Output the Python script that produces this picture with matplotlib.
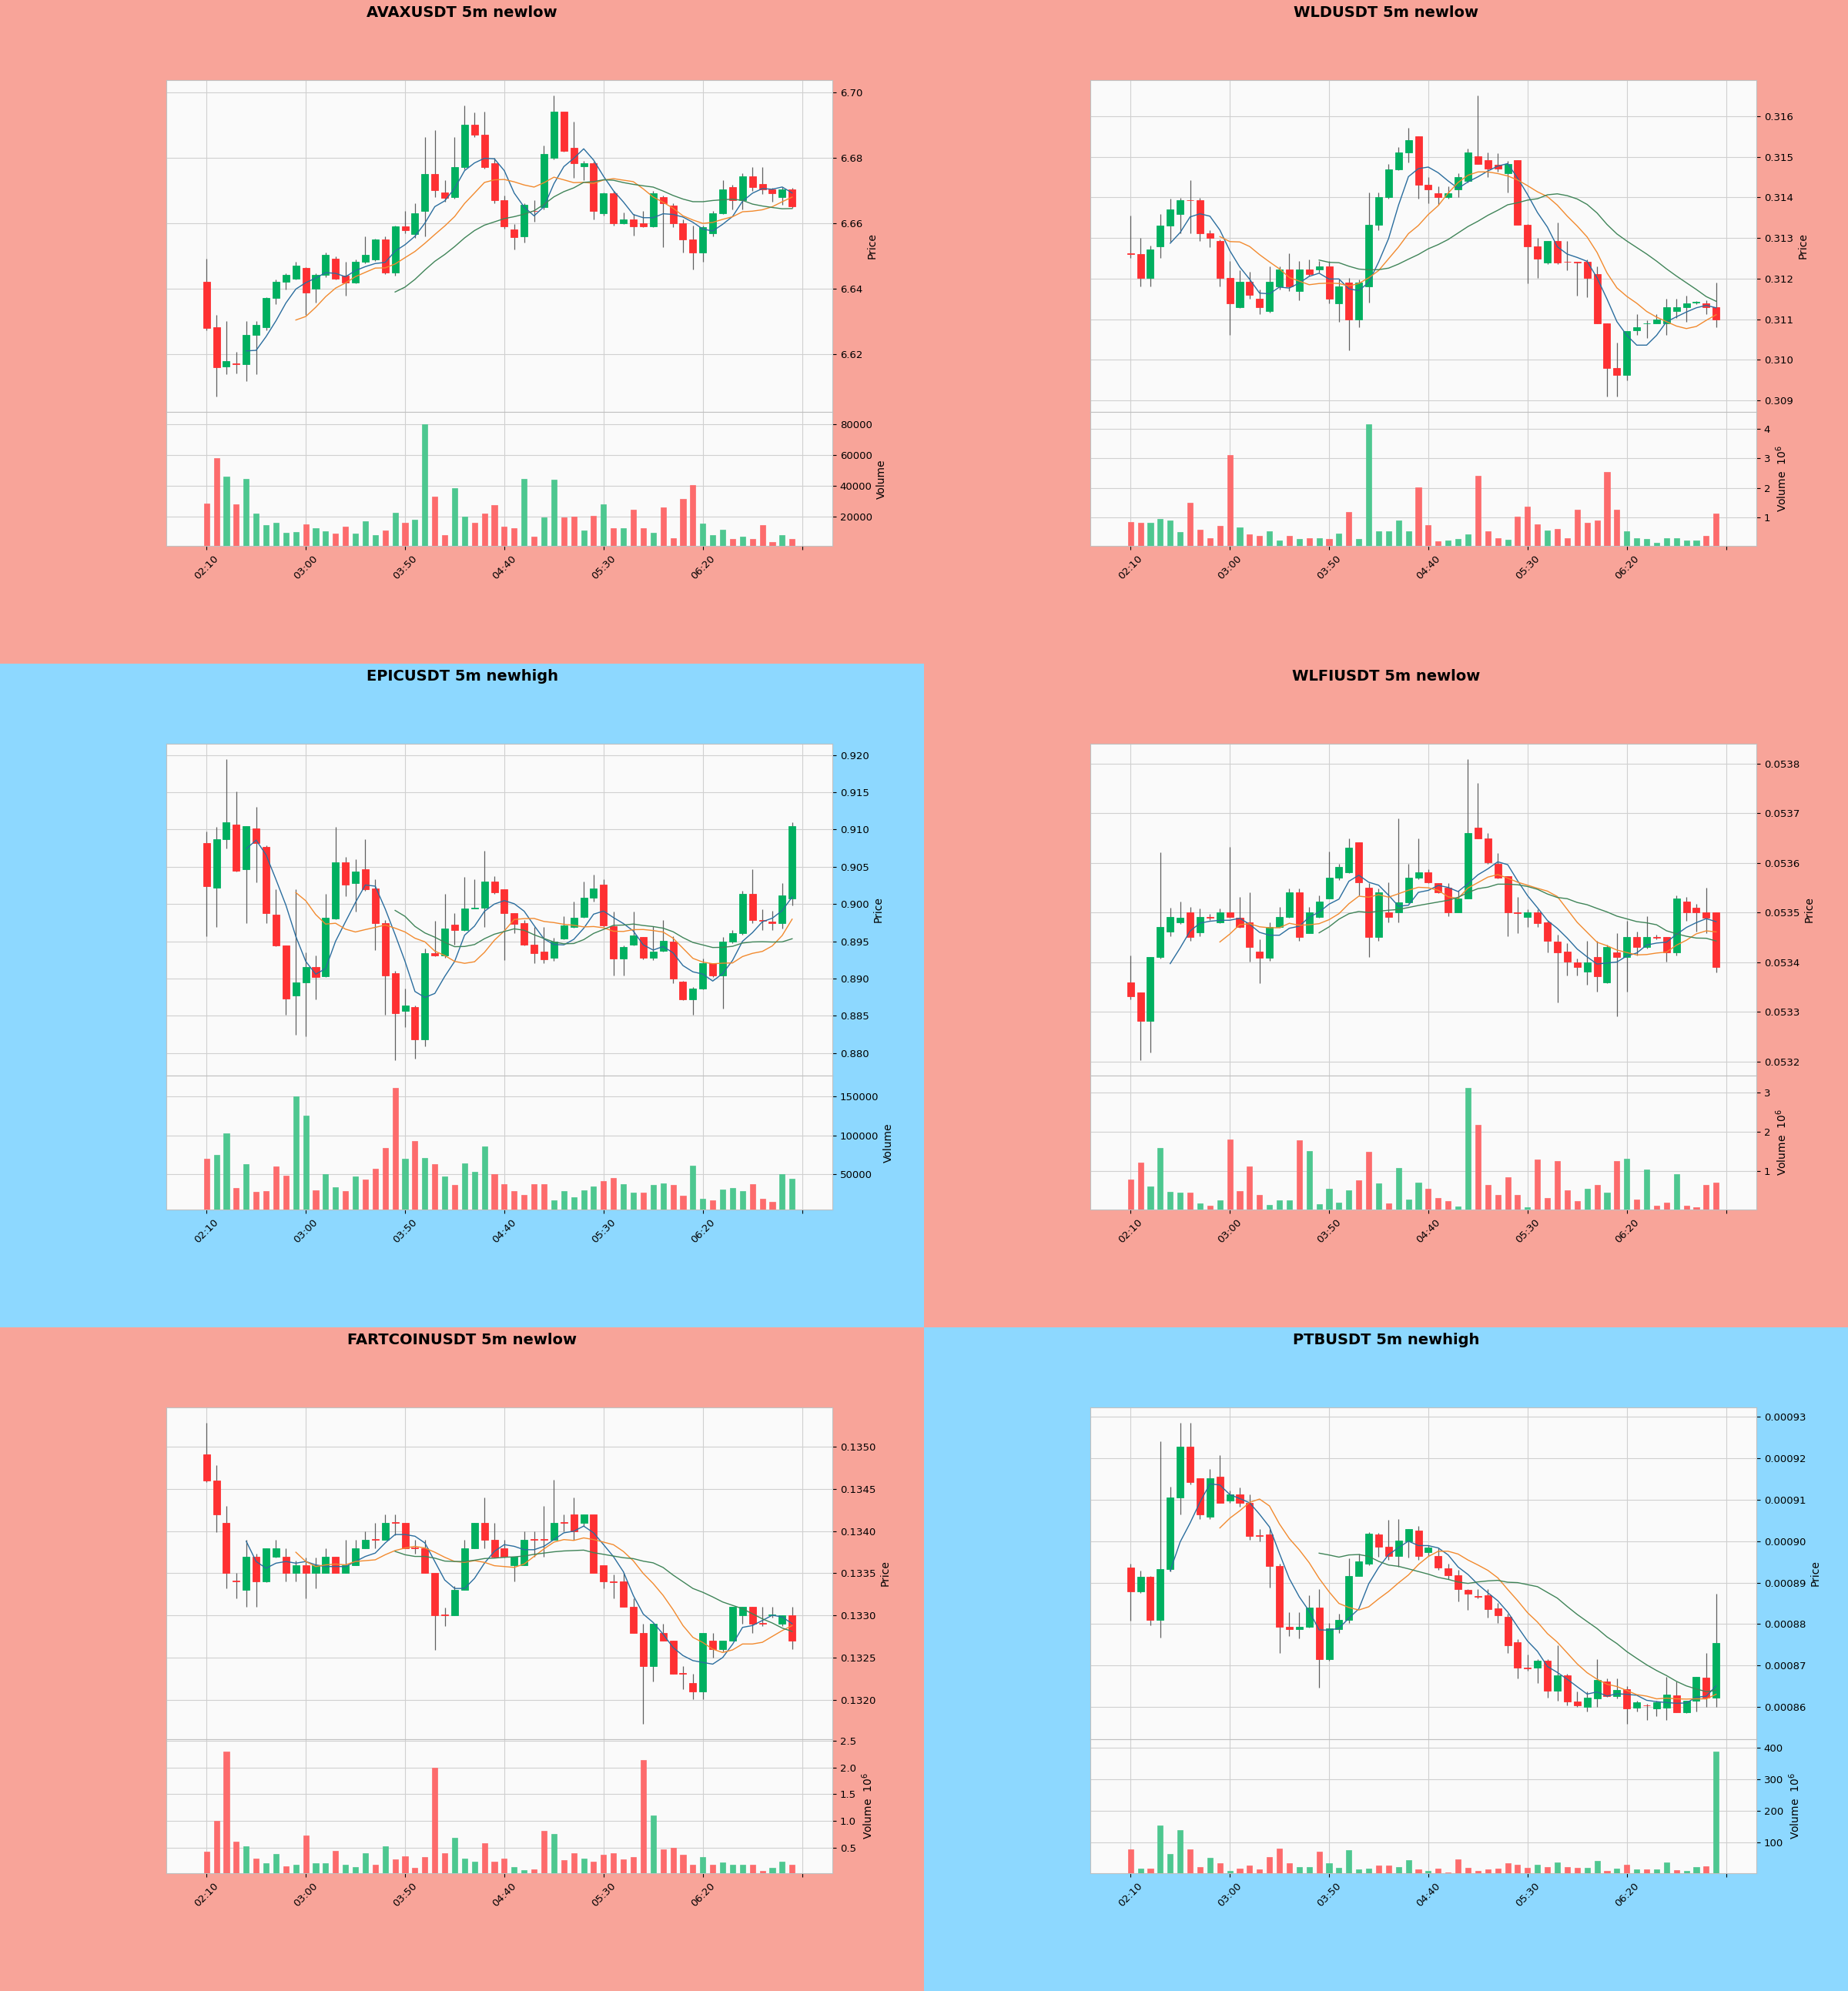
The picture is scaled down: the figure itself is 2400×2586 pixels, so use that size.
import numpy as np
import pandas as pd
import matplotlib
matplotlib.use("Agg")
import matplotlib.pyplot as plt
from matplotlib.ticker import ScalarFormatter

# ---------------- data ----------------
TICK_POS = [0, 10, 20, 30, 40, 50, 60]
TICK_LABELS = ['02:10', '03:00', '03:50', '04:40', '05:30', '06:20', '']
MAV_PERIODS = (5, 10, 20)

TITLES = ['AVAXUSDT 5m newlow', 'WLDUSDT 5m newlow', 'EPICUSDT 5m newhigh',
          'WLFIUSDT 5m newlow', 'FARTCOINUSDT 5m newlow', 'PTBUSDT 5m newhigh']

AVAX_OPEN = [6.6421, 6.6283, 6.6163, 6.6171, 6.6170, 6.6260, 6.6283, 6.6371, 6.6421, 6.6432,
             6.6463, 6.6401, 6.6442, 6.6491, 6.6440, 6.6419, 6.6482, 6.6489, 6.6551, 6.6449,
             6.6591, 6.6568, 6.6639, 6.6752, 6.6695, 6.6681, 6.6772, 6.6902, 6.6872, 6.6783,
             6.6672, 6.6582, 6.6561, 6.6638, 6.6649, 6.6800, 6.6941, 6.6831, 6.6774, 6.6783,
             6.6632, 6.6693, 6.6601, 6.6611, 6.6601, 6.6591, 6.6681, 6.6655, 6.6601, 6.6551,
             6.6511, 6.6570, 6.6632, 6.6712, 6.6671, 6.6743, 6.6720, 6.6705, 6.6681, 6.6703]
AVAX_HIGH = [6.6491, 6.6321, 6.6302, 6.6208, 6.6302, 6.6302, 6.6374, 6.6428, 6.6447, 6.6482,
             6.6467, 6.6447, 6.6511, 6.6498, 6.6482, 6.6489, 6.6561, 6.6553, 6.6561, 6.6594,
             6.6637, 6.6661, 6.6863, 6.6885, 6.6733, 6.6863, 6.6961, 6.6938, 6.6941, 6.6800,
             6.6685, 6.6599, 6.6661, 6.6671, 6.6839, 6.6992, 6.6941, 6.6911, 6.6791, 6.6789,
             6.6695, 6.6700, 6.6633, 6.6628, 6.6637, 6.6700, 6.6685, 6.6661, 6.6613, 6.6594,
             6.6594, 6.6637, 6.6733, 6.6719, 6.6753, 6.6772, 6.6772, 6.6709, 6.6712, 6.6709]
AVAX_LOW = [6.6273, 6.6070, 6.6139, 6.6141, 6.6119, 6.6139, 6.6273, 6.6354, 6.6398, 6.6428,
            6.6321, 6.6359, 6.6436, 6.6428, 6.6378, 6.6417, 6.6479, 6.6484, 6.6446, 6.6441,
            6.6570, 6.6556, 6.6561, 6.6681, 6.6666, 6.6676, 6.6764, 6.6863, 6.6767, 6.6661,
            6.6585, 6.6520, 6.6542, 6.6604, 6.6642, 6.6796, 6.6818, 6.6738, 6.6733, 6.6611,
            6.6623, 6.6594, 6.6599, 6.6563, 6.6589, 6.6589, 6.6527, 6.6589, 6.6511, 6.6460,
            6.6482, 6.6561, 6.6628, 6.6642, 6.6642, 6.6700, 6.6690, 6.6666, 6.6657, 6.6647]
AVAX_CLOSE = [6.6281, 6.6161, 6.6179, 6.6170, 6.6260, 6.6290, 6.6371, 6.6421, 6.6442, 6.6472,
              6.6388, 6.6442, 6.6503, 6.6432, 6.6419, 6.6482, 6.6503, 6.6551, 6.6449, 6.6591,
              6.6580, 6.6632, 6.6752, 6.6701, 6.6679, 6.6772, 6.6902, 6.6870, 6.6772, 6.6671,
              6.6591, 6.6559, 6.6657, 6.6637, 6.6812, 6.6941, 6.6821, 6.6783, 6.6783, 6.6639,
              6.6693, 6.6601, 6.6611, 6.6591, 6.6591, 6.6693, 6.6661, 6.6601, 6.6551, 6.6511,
              6.6589, 6.6632, 6.6703, 6.6671, 6.6743, 6.6712, 6.6703, 6.6693, 6.6705, 6.6652]
AVAX_VOL = [28700, 58100, 45800, 28200, 44300, 22000, 14800, 15900, 9700, 10100,
            15300, 12800, 10700, 9300, 13800, 9300, 16900, 8000, 11300, 22700,
            16300, 17900, 79800, 32800, 8000, 38600, 20000, 15900, 22000, 27600,
            13800, 12800, 44700, 7000, 19400, 44100, 19600, 20000, 11100, 20400,
            27800, 12800, 12800, 24700, 12800, 9700, 26200, 6200, 31300, 40600,
            15500, 8000, 11800, 5600, 7200, 5600, 14400, 3900, 8000, 5600]

WLD_OPEN = [0.31262, 0.31261, 0.31201, 0.31280, 0.31331, 0.31360, 0.31394, 0.31393, 0.31311, 0.31292,
            0.31202, 0.31130, 0.31192, 0.31150, 0.31121, 0.31180, 0.31222, 0.31170, 0.31222, 0.31222,
            0.31231, 0.31139, 0.31191, 0.31100, 0.31180, 0.31332, 0.31401, 0.31470, 0.31511, 0.31551,
            0.31431, 0.31410, 0.31400, 0.31420, 0.31441, 0.31501, 0.31491, 0.31481, 0.31460, 0.31492,
            0.31332, 0.31280, 0.31240, 0.31292, 0.31242, 0.31241, 0.31241, 0.31211, 0.31090, 0.30979,
            0.30962, 0.31072, 0.31089, 0.31090, 0.31090, 0.31120, 0.31130, 0.31141, 0.31139, 0.31130]
WLD_HIGH = [0.31355, 0.31301, 0.31282, 0.31359, 0.31397, 0.31399, 0.31442, 0.31399, 0.31320, 0.31297,
            0.31243, 0.31220, 0.31216, 0.31174, 0.31231, 0.31231, 0.31262, 0.31243, 0.31247, 0.31243,
            0.31243, 0.31197, 0.31201, 0.31197, 0.31413, 0.31413, 0.31482, 0.31524, 0.31571, 0.31551,
            0.31451, 0.31428, 0.31428, 0.31459, 0.31521, 0.31652, 0.31511, 0.31509, 0.31490, 0.31492,
            0.31335, 0.31301, 0.31293, 0.31339, 0.31293, 0.31242, 0.31247, 0.31231, 0.31090, 0.31043,
            0.31070, 0.31112, 0.31097, 0.31112, 0.31150, 0.31150, 0.31158, 0.31144, 0.31147, 0.31191]
WLD_LOW = [0.31251, 0.31181, 0.31181, 0.31251, 0.31291, 0.31312, 0.31312, 0.31293, 0.31278, 0.31181,
           0.31062, 0.31127, 0.31150, 0.31112, 0.31116, 0.31174, 0.31170, 0.31147, 0.31208, 0.31215,
           0.31139, 0.31093, 0.31023, 0.31081, 0.31141, 0.31320, 0.31397, 0.31467, 0.31486, 0.31397,
           0.31386, 0.31382, 0.31397, 0.31401, 0.31436, 0.31482, 0.31451, 0.31463, 0.31413, 0.31332,
           0.31189, 0.31201, 0.31235, 0.31235, 0.31220, 0.31158, 0.31154, 0.31089, 0.30909, 0.30909,
           0.30950, 0.31062, 0.31054, 0.31089, 0.31062, 0.31104, 0.31093, 0.31137, 0.31112, 0.31081]
WLD_CLOSE = [0.31261, 0.31201, 0.31272, 0.31331, 0.31371, 0.31393, 0.31393, 0.31311, 0.31301, 0.31201,
             0.31139, 0.31192, 0.31160, 0.31130, 0.31192, 0.31222, 0.31180, 0.31222, 0.31212, 0.31231,
             0.31150, 0.31181, 0.31100, 0.31191, 0.31332, 0.31401, 0.31470, 0.31511, 0.31542, 0.31431,
             0.31420, 0.31400, 0.31410, 0.31451, 0.31511, 0.31482, 0.31471, 0.31471, 0.31482, 0.31332,
             0.31280, 0.31249, 0.31292, 0.31240, 0.31241, 0.31239, 0.31201, 0.31090, 0.30979, 0.30962,
             0.31070, 0.31080, 0.31090, 0.31100, 0.31130, 0.31130, 0.31139, 0.31142, 0.31130, 0.31100]
WLD_VOL_M = [0.85, 0.83, 0.83, 0.96, 0.91, 0.51, 1.49, 0.60, 0.30, 0.72,
             3.12, 0.67, 0.43, 0.38, 0.53, 0.24, 0.38, 0.28, 0.30, 0.32,
             0.28, 0.46, 1.20, 0.28, 4.15, 0.53, 0.55, 0.91, 0.55, 2.02,
             0.74, 0.21, 0.22, 0.28, 0.45, 2.40, 0.53, 0.30, 0.26, 1.04,
             1.36, 0.78, 0.56, 0.62, 0.32, 1.26, 0.83, 0.90, 2.53, 1.26,
             0.53, 0.30, 0.28, 0.16, 0.32, 0.30, 0.22, 0.24, 0.38, 1.15]

EPIC_OPEN = [0.9082, 0.9022, 0.9087, 0.9107, 0.9047, 0.9102, 0.9077, 0.8986, 0.8944, 0.8877,
             0.8895, 0.8915, 0.8903, 0.8981, 0.9056, 0.9028, 0.9047, 0.9021, 0.8974, 0.8907,
             0.8857, 0.8862, 0.8818, 0.8934, 0.8931, 0.8972, 0.8965, 0.8994, 0.8995, 0.9030,
             0.9020, 0.8988, 0.8974, 0.8945, 0.8936, 0.8928, 0.8954, 0.8969, 0.8983, 0.9008,
             0.9026, 0.8970, 0.8927, 0.8945, 0.8956, 0.8928, 0.8937, 0.8950, 0.8896, 0.8872,
             0.8887, 0.8921, 0.8904, 0.8950, 0.8961, 0.9014, 0.8979, 0.8976, 0.8974, 0.9007]
EPIC_HIGH = [0.9097, 0.9104, 0.9195, 0.9151, 0.9105, 0.9130, 0.9079, 0.9020, 0.8944, 0.9020,
             0.8935, 0.8931, 0.9014, 0.9104, 0.9063, 0.9060, 0.9087, 0.9033, 0.8979, 0.8910,
             0.8886, 0.8864, 0.8940, 0.8977, 0.9014, 0.8988, 0.9036, 0.9033, 0.9072, 0.9037,
             0.9020, 0.8988, 0.8978, 0.8969, 0.8969, 0.8955, 0.8984, 0.9003, 0.9030, 0.9039,
             0.9033, 0.8990, 0.8944, 0.8990, 0.8956, 0.8970, 0.8978, 0.8957, 0.8897, 0.8889,
             0.8927, 0.8921, 0.8956, 0.8965, 0.9018, 0.9047, 0.8993, 0.8991, 0.9028, 0.9110]
EPIC_LOW = [0.8957, 0.8969, 0.9075, 0.9044, 0.8974, 0.9029, 0.8974, 0.8943, 0.8851, 0.8824,
            0.8822, 0.8872, 0.8902, 0.8980, 0.9011, 0.8990, 0.9018, 0.8938, 0.8851, 0.8790,
            0.8835, 0.8792, 0.8809, 0.8930, 0.8928, 0.8945, 0.8964, 0.8994, 0.8969, 0.9014,
            0.8925, 0.8961, 0.8944, 0.8921, 0.8921, 0.8924, 0.8953, 0.8968, 0.8982, 0.9003,
            0.8969, 0.8904, 0.8904, 0.8944, 0.8926, 0.8925, 0.8936, 0.8894, 0.8871, 0.8851,
            0.8885, 0.8902, 0.8860, 0.8948, 0.8959, 0.8974, 0.8965, 0.8965, 0.8967, 0.8998]
EPIC_CLOSE = [0.9024, 0.9087, 0.9110, 0.9045, 0.9105, 0.9082, 0.8988, 0.8944, 0.8873, 0.8895,
              0.8915, 0.8902, 0.8982, 0.9056, 0.9026, 0.9044, 0.9020, 0.8974, 0.8904, 0.8853,
              0.8864, 0.8818, 0.8934, 0.8931, 0.8967, 0.8965, 0.8994, 0.8995, 0.9030, 0.9016,
              0.8988, 0.8973, 0.8945, 0.8934, 0.8926, 0.8950, 0.8971, 0.8982, 0.9008, 0.9021,
              0.8971, 0.8927, 0.8942, 0.8958, 0.8928, 0.8936, 0.8951, 0.8900, 0.8872, 0.8886,
              0.8921, 0.8904, 0.8950, 0.8961, 0.9014, 0.8979, 0.8977, 0.8974, 0.9012, 0.9105]
EPIC_VOL = [69900, 74800, 102400, 32100, 62600, 26800, 28000, 59800, 48400, 150000,
            125600, 28900, 50000, 32900, 28000, 47200, 43500, 57300, 84100, 161000,
            69900, 92300, 70700, 62600, 47200, 36200, 63800, 53300, 85800, 50400,
            37000, 28000, 23600, 37000, 37000, 16700, 28000, 19900, 28900, 34100,
            41100, 45100, 37000, 26000, 26000, 36200, 38200, 36200, 22000, 61400,
            17900, 15900, 30100, 32100, 28000, 37400, 17900, 14600, 50400, 44300]

WLFI_OPEN = [0.053360, 0.053339, 0.053281, 0.053411, 0.053462, 0.053481, 0.053500, 0.053460, 0.053491, 0.053481,
             0.053500, 0.053490, 0.053481, 0.053422, 0.053409, 0.053471, 0.053491, 0.053541, 0.053459, 0.053491,
             0.053529, 0.053571, 0.053581, 0.053641, 0.053550, 0.053451, 0.053500, 0.053500, 0.053520, 0.053571,
             0.053581, 0.053560, 0.053550, 0.053500, 0.053529, 0.053671, 0.053650, 0.053598, 0.053573, 0.053500,
             0.053491, 0.053500, 0.053481, 0.053441, 0.053422, 0.053400, 0.053381, 0.053411, 0.053360, 0.053420,
             0.053411, 0.053451, 0.053430, 0.053451, 0.053451, 0.053420, 0.053522, 0.053510, 0.053500, 0.053500]
WLFI_HIGH = [0.053413, 0.053339, 0.053411, 0.053622, 0.053510, 0.053522, 0.053512, 0.053509, 0.053498, 0.053509,
             0.053633, 0.053531, 0.053541, 0.053446, 0.053481, 0.053512, 0.053549, 0.053549, 0.053512, 0.053534,
             0.053623, 0.053599, 0.053649, 0.053641, 0.053560, 0.053549, 0.053561, 0.053690, 0.053599, 0.053649,
             0.053588, 0.053560, 0.053560, 0.053544, 0.053810, 0.053761, 0.053661, 0.053620, 0.053573, 0.053531,
             0.053506, 0.053506, 0.053484, 0.053455, 0.053439, 0.053408, 0.053443, 0.053443, 0.053436, 0.053458,
             0.053484, 0.053462, 0.053493, 0.053455, 0.053451, 0.053534, 0.053531, 0.053517, 0.053550, 0.053500]
WLFI_LOW = [0.053325, 0.053202, 0.053218, 0.053408, 0.053452, 0.053477, 0.053443, 0.053452, 0.053485, 0.053479,
            0.053490, 0.053470, 0.053401, 0.053357, 0.053403, 0.053470, 0.053489, 0.053443, 0.053458, 0.053490,
            0.053528, 0.053566, 0.053579, 0.053534, 0.053411, 0.053443, 0.053481, 0.053481, 0.053519, 0.053567,
            0.053560, 0.053540, 0.053493, 0.053500, 0.053528, 0.053650, 0.053598, 0.053569, 0.053452, 0.053459,
            0.053471, 0.053471, 0.053420, 0.053319, 0.053373, 0.053373, 0.053354, 0.053341, 0.053357, 0.053291,
            0.053341, 0.053414, 0.053427, 0.053446, 0.053401, 0.053414, 0.053484, 0.053462, 0.053458, 0.053379]
WLFI_CLOSE = [0.053332, 0.053281, 0.053411, 0.053471, 0.053491, 0.053490, 0.053451, 0.053491, 0.053490, 0.053500,
              0.053491, 0.053471, 0.053430, 0.053409, 0.053471, 0.053491, 0.053541, 0.053451, 0.053500, 0.053522,
              0.053571, 0.053592, 0.053631, 0.053561, 0.053451, 0.053541, 0.053491, 0.053520, 0.053571, 0.053581,
              0.053561, 0.053541, 0.053500, 0.053529, 0.053661, 0.053650, 0.053601, 0.053571, 0.053500, 0.053499,
              0.053500, 0.053479, 0.053443, 0.053420, 0.053401, 0.053390, 0.053400, 0.053371, 0.053430, 0.053411,
              0.053451, 0.053430, 0.053451, 0.053450, 0.053420, 0.053529, 0.053500, 0.053500, 0.053490, 0.053390]
WLFI_VOL_M = [0.79, 1.21, 0.61, 1.59, 0.47, 0.45, 0.45, 0.19, 0.13, 0.25,
              1.81, 0.49, 1.13, 0.40, 0.15, 0.25, 0.25, 1.78, 1.52, 0.17,
              0.55, 0.20, 0.51, 0.77, 1.50, 0.69, 0.19, 1.08, 0.27, 0.70,
              0.55, 0.32, 0.23, 0.11, 3.12, 2.17, 0.66, 0.39, 0.85, 0.39,
              0.08, 1.30, 0.31, 1.26, 0.51, 0.24, 0.55, 0.65, 0.45, 1.26,
              1.32, 0.27, 1.04, 0.13, 0.20, 0.93, 0.13, 0.09, 0.65, 0.70]

FART_OPEN = [0.13491, 0.13460, 0.13410, 0.13341, 0.13330, 0.13370, 0.13340, 0.13370, 0.13370, 0.13350,
             0.13360, 0.13350, 0.13350, 0.13370, 0.13350, 0.13360, 0.13380, 0.13391, 0.13390, 0.13411,
             0.13410, 0.13381, 0.13380, 0.13350, 0.13301, 0.13300, 0.13330, 0.13380, 0.13410, 0.13390,
             0.13380, 0.13360, 0.13360, 0.13391, 0.13391, 0.13390, 0.13411, 0.13420, 0.13410, 0.13420,
             0.13360, 0.13340, 0.13340, 0.13310, 0.13279, 0.13240, 0.13279, 0.13270, 0.13232, 0.13220,
             0.13210, 0.13270, 0.13260, 0.13270, 0.13300, 0.13310, 0.13291, 0.13300, 0.13290, 0.13300]
FART_HIGH = [0.13529, 0.13478, 0.13430, 0.13350, 0.13390, 0.13373, 0.13380, 0.13390, 0.13380, 0.13365,
             0.13369, 0.13369, 0.13380, 0.13370, 0.13390, 0.13390, 0.13400, 0.13410, 0.13420, 0.13420,
             0.13410, 0.13390, 0.13390, 0.13350, 0.13309, 0.13335, 0.13390, 0.13410, 0.13440, 0.13410,
             0.13390, 0.13370, 0.13400, 0.13400, 0.13430, 0.13461, 0.13420, 0.13440, 0.13420, 0.13420,
             0.13360, 0.13349, 0.13350, 0.13320, 0.13290, 0.13290, 0.13290, 0.13270, 0.13240, 0.13231,
             0.13279, 0.13279, 0.13270, 0.13310, 0.13310, 0.13310, 0.13310, 0.13310, 0.13300, 0.13310]
FART_LOW = [0.13458, 0.13399, 0.13332, 0.13320, 0.13310, 0.13310, 0.13339, 0.13369, 0.13340, 0.13340,
            0.13320, 0.13332, 0.13350, 0.13350, 0.13350, 0.13360, 0.13380, 0.13380, 0.13390, 0.13395,
            0.13380, 0.13373, 0.13350, 0.13259, 0.13287, 0.13300, 0.13330, 0.13380, 0.13380, 0.13369,
            0.13369, 0.13340, 0.13360, 0.13370, 0.13370, 0.13390, 0.13400, 0.13390, 0.13406, 0.13350,
            0.13332, 0.13320, 0.13310, 0.13279, 0.13171, 0.13222, 0.13270, 0.13231, 0.13212, 0.13201,
            0.13201, 0.13250, 0.13257, 0.13270, 0.13290, 0.13279, 0.13287, 0.13297, 0.13287, 0.13260]
FART_CLOSE = [0.13460, 0.13420, 0.13350, 0.13340, 0.13370, 0.13340, 0.13380, 0.13380, 0.13350, 0.13360,
              0.13350, 0.13360, 0.13370, 0.13350, 0.13360, 0.13380, 0.13390, 0.13390, 0.13410, 0.13410,
              0.13380, 0.13380, 0.13350, 0.13300, 0.13300, 0.13330, 0.13380, 0.13410, 0.13390, 0.13370,
              0.13370, 0.13370, 0.13390, 0.13390, 0.13390, 0.13410, 0.13410, 0.13400, 0.13420, 0.13350,
              0.13340, 0.13339, 0.13310, 0.13279, 0.13240, 0.13290, 0.13270, 0.13231, 0.13231, 0.13210,
              0.13279, 0.13260, 0.13270, 0.13310, 0.13310, 0.13290, 0.13290, 0.13301, 0.13300, 0.13270]
FART_VOL_M = [0.42, 1.00, 2.30, 0.61, 0.53, 0.29, 0.21, 0.38, 0.15, 0.18,
              0.73, 0.21, 0.21, 0.43, 0.18, 0.14, 0.40, 0.18, 0.53, 0.28,
              0.33, 0.12, 0.32, 2.00, 0.40, 0.68, 0.29, 0.24, 0.58, 0.24,
              0.29, 0.14, 0.08, 0.09, 0.81, 0.76, 0.27, 0.39, 0.29, 0.23,
              0.36, 0.40, 0.28, 0.32, 2.14, 1.10, 0.47, 0.49, 0.36, 0.18,
              0.32, 0.18, 0.22, 0.17, 0.17, 0.18, 0.06, 0.12, 0.24, 0.18]

PTB_OPEN = [0.00089370, 0.00088780, 0.00089140, 0.00088110, 0.00089320, 0.00091060, 0.00092270, 0.00091510, 0.00090590, 0.00091550,
            0.00090970, 0.00091120, 0.00090930, 0.00090140, 0.00090160, 0.00089400, 0.00087940, 0.00087880, 0.00087940, 0.00088400,
            0.00087150, 0.00087880, 0.00088110, 0.00089160, 0.00089460, 0.00090160, 0.00089860, 0.00089650, 0.00089990, 0.00090260,
            0.00089730, 0.00089650, 0.00089350, 0.00089170, 0.00088820, 0.00088670, 0.00088690, 0.00088380, 0.00088170, 0.00087560,
            0.00086950, 0.00086960, 0.00087120, 0.00086390, 0.00086770, 0.00086140, 0.00086010, 0.00086200, 0.00086610, 0.00086270,
            0.00086440, 0.00085980, 0.00086050, 0.00085970, 0.00085980, 0.00086290, 0.00085880, 0.00086160, 0.00086710, 0.00086230]
PTB_HIGH = [0.00089460, 0.00089290, 0.00089160, 0.00092410, 0.00091320, 0.00092860, 0.00092860, 0.00091510, 0.00091740, 0.00092080,
            0.00091210, 0.00091290, 0.00091120, 0.00090300, 0.00090300, 0.00089460, 0.00088280, 0.00088280, 0.00088700, 0.00088850,
            0.00088020, 0.00088250, 0.00089580, 0.00089700, 0.00090220, 0.00090200, 0.00090520, 0.00090540, 0.00090300, 0.00090370,
            0.00089900, 0.00089840, 0.00089460, 0.00089310, 0.00088850, 0.00088850, 0.00088850, 0.00088510, 0.00088250, 0.00087640,
            0.00087270, 0.00087150, 0.00087150, 0.00087490, 0.00086810, 0.00086380, 0.00086380, 0.00087150, 0.00086690, 0.00086690,
            0.00086500, 0.00086150, 0.00086080, 0.00086150, 0.00086720, 0.00086610, 0.00086160, 0.00086730, 0.00087300, 0.00088740]
PTB_LOW = [0.00088090, 0.00088750, 0.00087980, 0.00087680, 0.00089270, 0.00090640, 0.00091360, 0.00090540, 0.00090540, 0.00090920,
           0.00090930, 0.00090830, 0.00090030, 0.00089990, 0.00088890, 0.00087300, 0.00087710, 0.00087650, 0.00087920, 0.00086460,
           0.00087110, 0.00087790, 0.00088020, 0.00089150, 0.00089420, 0.00089620, 0.00089540, 0.00089390, 0.00089610, 0.00089540,
           0.00089650, 0.00089310, 0.00089080, 0.00088550, 0.00088350, 0.00088630, 0.00088150, 0.00088020, 0.00087300, 0.00086690,
           0.00086880, 0.00086580, 0.00086230, 0.00086160, 0.00086040, 0.00086000, 0.00085890, 0.00086000, 0.00086250, 0.00086200,
           0.00085590, 0.00085890, 0.00085690, 0.00085780, 0.00085690, 0.00085870, 0.00085860, 0.00085890, 0.00086000, 0.00086000]
PTB_CLOSE = [0.00088780, 0.00089140, 0.00088110, 0.00089320, 0.00091060, 0.00092270, 0.00091420, 0.00090640, 0.00091510, 0.00090930,
             0.00091120, 0.00090930, 0.00090130, 0.00090130, 0.00089400, 0.00087940, 0.00087880, 0.00087940, 0.00088400, 0.00087150,
             0.00087900, 0.00088110, 0.00089160, 0.00089520, 0.00090180, 0.00089860, 0.00089650, 0.00090010, 0.00090300, 0.00089650,
             0.00089850, 0.00089370, 0.00089170, 0.00088850, 0.00088740, 0.00088660, 0.00088360, 0.00088210, 0.00087490, 0.00086960,
             0.00086940, 0.00087120, 0.00086390, 0.00086770, 0.00086140, 0.00086040, 0.00086230, 0.00086650, 0.00086270, 0.00086420,
             0.00085970, 0.00086120, 0.00086040, 0.00086110, 0.00086310, 0.00085880, 0.00086160, 0.00086730, 0.00086230, 0.00087550]
PTB_VOL_M = [76, 16, 16, 154, 62, 139, 76, 22, 51, 34,
             9, 16, 26, 14, 52, 79, 34, 22, 22, 69,
             32, 19, 74, 14, 16, 26, 26, 21, 42, 14,
             9, 16, 4, 46, 19, 9, 14, 16, 34, 29,
             19, 29, 22, 36, 21, 19, 19, 41, 9, 16,
             29, 14, 14, 14, 36, 12, 9, 21, 24, 389]

MILLION = 1e6
CHARTS = [
    (TITLES[0], AVAX_OPEN, AVAX_HIGH, AVAX_LOW, AVAX_CLOSE, np.array(AVAX_VOL, float)),
    (TITLES[1], WLD_OPEN, WLD_HIGH, WLD_LOW, WLD_CLOSE, np.array(WLD_VOL_M) * MILLION),
    (TITLES[2], EPIC_OPEN, EPIC_HIGH, EPIC_LOW, EPIC_CLOSE, np.array(EPIC_VOL, float)),
    (TITLES[3], WLFI_OPEN, WLFI_HIGH, WLFI_LOW, WLFI_CLOSE, np.array(WLFI_VOL_M) * MILLION),
    (TITLES[4], FART_OPEN, FART_HIGH, FART_LOW, FART_CLOSE, np.array(FART_VOL_M) * MILLION),
    (TITLES[5], PTB_OPEN, PTB_HIGH, PTB_LOW, PTB_CLOSE, np.array(PTB_VOL_M) * MILLION),
]

# ---------------- style ----------------
UP, DOWN = '#00b060', '#fe3032'
VUP, VDOWN = '#4dc790', '#fd6b6c'
WICK = '#606060'
MA_COLORS = ['#2a6d9e', '#f28a2e', '#3f8458']
BG = {'newlow': '#f8a499', 'newhigh': '#8dd8ff'}
FACE = '#fafafa'
GRID = '#d0d0d0'
EDGE = '#c0c0c0'
TICK_FS = 9.5

plt.rcParams['font.family'] = ['DejaVu Sans']

fig = plt.figure(figsize=(24, 25.86), dpi=100)
subfigs = fig.subfigures(3, 2, wspace=0, hspace=0)

AX_L, AX_W = 0.18, 0.7208
P_B, P_H = 0.3794, 0.5000
V_B, V_H = 0.1775, 0.2019


def style_axes(ax):
    ax.set_facecolor(FACE)
    for sp in ax.spines.values():
        sp.set_color(EDGE)
    ax.grid(True, color=GRID, linestyle='-', linewidth=0.8)
    ax.set_axisbelow(True)
    ax.yaxis.tick_right()
    ax.yaxis.set_label_position('right')
    ax.tick_params(axis='both', labelsize=TICK_FS, colors='k')


for sf, (title, o, h, l, c, vol) in zip(subfigs.flat, CHARTS):
    o, h, l, c = map(np.asarray, (o, h, l, c))
    n = len(c)
    x = np.arange(n)
    kind = title.split()[-1]
    sf.set_facecolor(BG[kind])
    sf.text(0.5, 1 - 16.5 / 862, title, ha='center', va='center',
            fontsize=14, fontweight='bold')

    axp = sf.add_axes([AX_L, P_B, AX_W, P_H])
    axv = sf.add_axes([AX_L, V_B, AX_W, V_H], sharex=axp)
    style_axes(axp)
    style_axes(axv)

    up = c >= o
    body_col = np.where(up, UP, DOWN)
    vol_col = np.where(up, VUP, VDOWN)

    axp.vlines(x, l, h, color=WICK, linewidth=0.9, zorder=2)
    axp.bar(x, np.abs(c - o), bottom=np.minimum(o, c), width=0.7,
            color=body_col, edgecolor=body_col, linewidth=0.6, zorder=3)
    closes = pd.Series(c)
    for p, col in zip(MAV_PERIODS, MA_COLORS):
        axp.plot(x, closes.rolling(p).mean(), color=col, linewidth=1.0, zorder=4)

    lo, hi = l.min(), h.max()
    pad = 0.05 * (hi - lo)
    axp.set_ylim(lo - pad, hi + pad)
    axp.yaxis.set_major_formatter(ScalarFormatter(useOffset=False))
    axp.set_ylabel('Price', fontsize=10)

    vmax = vol.max()
    vexp = int(3 * np.floor(np.log10(vmax) / 3)) if vmax >= 1e6 else 0
    vs = vol / 10 ** vexp
    axv.bar(x, vs, width=0.55, color=vol_col, edgecolor=vol_col, linewidth=0.5, zorder=3)
    axv.set_ylim(0.3 * vs.min(), 1.1 * vs.max())
    axv.yaxis.set_major_formatter(ScalarFormatter(useOffset=False))
    axv.set_ylabel('Volume' + (f'  $10^{{{vexp}}}$' if vexp else ''), fontsize=10)

    axp.set_xlim(-1 - 0.05 * (n + 1), n + 0.05 * (n + 1))
    axv.set_xticks(TICK_POS)
    axv.set_xticklabels(TICK_LABELS, rotation=45, ha='center', fontsize=TICK_FS)
    axp.tick_params(axis='x', labelbottom=False, length=0)

fig.savefig('out.png', dpi=100)
